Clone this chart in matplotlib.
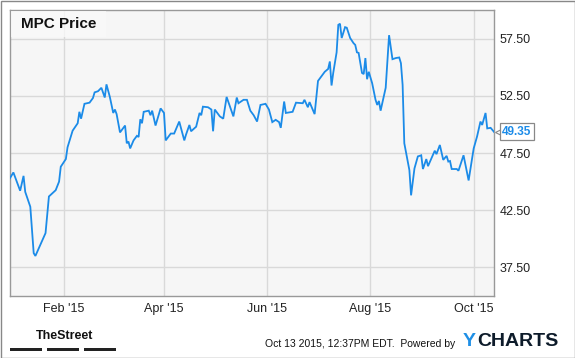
import matplotlib
matplotlib.use("Agg")
import matplotlib.pyplot as plt
import matplotlib.dates as mdates
import matplotlib.transforms as mtransforms
import pandas as pd

# MPC daily close
dates = [
    "2014-12-31", "2015-01-02", "2015-01-06", "2015-01-08", "2015-01-09", "2015-01-12",
    "2015-01-14", "2015-01-15", "2015-01-21", "2015-01-23", "2015-01-27", "2015-01-29",
    "2015-01-30", "2015-02-02", "2015-02-03", "2015-02-06", "2015-02-09", "2015-02-10",
    "2015-02-11", "2015-02-13", "2015-02-16", "2015-02-18", "2015-02-19", "2015-02-21",
    "2015-02-23", "2015-02-25", "2015-02-26", "2015-02-28", "2015-03-02", "2015-03-03",
    "2015-03-04", "2015-03-06", "2015-03-09", "2015-03-10", "2015-03-11", "2015-03-12",
    "2015-03-14", "2015-03-16", "2015-03-17", "2015-03-18", "2015-03-19", "2015-03-20",
    "2015-03-23", "2015-03-24", "2015-03-25", "2015-03-27", "2015-03-30", "2015-04-01",
    "2015-04-02", "2015-04-05", "2015-04-07", "2015-04-10", "2015-04-13", "2015-04-14",
    "2015-04-16", "2015-04-17", "2015-04-20", "2015-04-22", "2015-04-23", "2015-04-24",
    "2015-04-27", "2015-04-29", "2015-04-30", "2015-05-01", "2015-05-03", "2015-05-04",
    "2015-05-06", "2015-05-08", "2015-05-12", "2015-05-14", "2015-05-15", "2015-05-18",
    "2015-05-20", "2015-05-22", "2015-05-24", "2015-05-26", "2015-05-28", "2015-05-31",
    "2015-06-02", "2015-06-04", "2015-06-06", "2015-06-08", "2015-06-09", "2015-06-11",
    "2015-06-12", "2015-06-16", "2015-06-18", "2015-06-22", "2015-06-23", "2015-06-25",
    "2015-06-26", "2015-06-29", "2015-07-01", "2015-07-05", "2015-07-07", "2015-07-08",
    "2015-07-09", "2015-07-10", "2015-07-12", "2015-07-13", "2015-07-14", "2015-07-15",
    "2015-07-17", "2015-07-18", "2015-07-20", "2015-07-22", "2015-07-23", "2015-07-24",
    "2015-07-25", "2015-07-27", "2015-07-28", "2015-07-29", "2015-07-30", "2015-07-31",
    "2015-08-02", "2015-08-04", "2015-08-05", "2015-08-06", "2015-08-07", "2015-08-10",
    "2015-08-12", "2015-08-14", "2015-08-16", "2015-08-18", "2015-08-19", "2015-08-20",
    "2015-08-21", "2015-08-24", "2015-08-25", "2015-08-27", "2015-08-29", "2015-08-31",
    "2015-09-01", "2015-09-03", "2015-09-04", "2015-09-08", "2015-09-09", "2015-09-11",
    "2015-09-13", "2015-09-15", "2015-09-16", "2015-09-17", "2015-09-18", "2015-09-21",
    "2015-09-22", "2015-09-25", "2015-09-28", "2015-10-01", "2015-10-03", "2015-10-05",
    "2015-10-06", "2015-10-08", "2015-10-09", "2015-10-11", "2015-10-13",
]
prices = [
    45.3, 45.8, 44.2, 45.5, 44.1, 42.8,
    38.75, 38.5, 40.5, 43.7, 44.25, 45.0,
    46.3, 46.97, 48.0, 49.45, 50.1, 51.1,
    50.5, 51.8, 51.9, 52.3, 52.8, 52.9,
    53.2, 52.35, 53.5, 52.4, 51.0, 51.3,
    50.9, 49.3, 49.9, 48.35, 48.5, 47.9,
    48.6, 49.0, 48.9, 50.45, 50.1, 51.1,
    51.2, 50.8, 51.2, 49.9, 51.4, 51.0,
    48.6, 49.2, 49.2, 50.25, 48.6, 49.1,
    49.95, 49.4, 49.8, 51.0, 50.8, 51.55,
    51.5, 51.3, 49.4, 51.3, 50.9, 50.7,
    50.5, 52.4, 50.7, 52.35, 51.85, 52.15,
    52.15, 51.2, 50.8, 50.25, 51.7, 51.8,
    51.3, 50.2, 50.4, 50.2, 49.7, 52.0,
    51.0, 51.1, 51.9, 51.85, 52.15, 51.5,
    51.95, 50.9, 53.8, 54.6, 54.85, 55.5,
    53.4, 54.5, 56.3, 58.7, 58.8, 57.55,
    58.5, 58.45, 57.55, 57.1, 56.95, 56.3,
    56.25, 54.5, 54.4, 55.8, 53.95, 54.6,
    53.6, 52.15, 51.7, 52.05, 51.2, 53.2,
    57.8, 55.7, 55.8, 55.85, 55.35, 53.45,
    48.35, 46.0, 43.8, 46.15, 47.2, 47.3,
    46.1, 46.97, 46.35, 47.7, 47.4, 48.2,
    46.9, 47.25, 46.75, 46.8, 46.1, 46.1,
    45.95, 47.3, 45.1, 47.9, 48.95, 50.25,
    49.95, 51.0, 49.65, 49.7, 49.35,
]
yticks = [37.5, 42.5, 47.5, 52.5, 57.5]
last_price = 49.35

x = pd.to_datetime(dates)

LINE = "#1b8be8"
GRID = "#d9d9d9"
FRAME = "#999999"
W, H = 575, 358

fig = plt.figure(figsize=(5.75, 3.58), dpi=100)
fig.patch.set_facecolor("white")
ax = fig.add_axes([10 / W, 1 - 296 / H, 484 / W, 286 / H])
ax.set_facecolor("#f6f6f6")

ax.plot(x, prices, color=LINE, lw=1.3, solid_joinstyle="miter", zorder=3)

ax.set_xlim(x[0], x[-1])
ax.set_ylim(35, 60)
ax.set_yticks(yticks)
ax.yaxis.set_major_formatter(matplotlib.ticker.FormatStrFormatter("%.2f"))
ax.xaxis.set_major_locator(mdates.MonthLocator(bymonth=[2, 4, 6, 8, 10]))
ax.xaxis.set_major_formatter(mdates.DateFormatter("%b '%y"))
ax.yaxis.tick_right()
ax.tick_params(length=0, labelsize=9, labelcolor="#222222", pad=4)
ax.tick_params(axis="x", pad=5)
for lab in ax.get_xticklabels() + ax.get_yticklabels():
    lab.set_family("Liberation Sans")
ax.grid(True, color=GRID, lw=1)
ax.set_axisbelow(True)
for s in ax.spines.values():
    s.set_color(FRAME)
    s.set_linewidth(1)

# title box
fig.patches.append(plt.Rectangle((10.5 / W, 1 - 37 / H), 95 / W, 26.5 / H,
                                 transform=fig.transFigure, fc="#fafafa", ec="none",
                                 alpha=0.75, zorder=2))
fig.text(21 / W, 1 - 24 / H, "MPC Price", ha="left", va="center", fontsize=11,
         fontweight="bold", family="Liberation Sans", color="#111111", zorder=3)

# last value tag with pointer
trans = mtransforms.blended_transform_factory(ax.transAxes, ax.transData)
ptr = mtransforms.offset_copy(trans, fig=fig, x=5, y=0, units="dots")
ax.plot([1.0], [last_price], marker="<", ms=6, mfc="white", mec="#888888", mew=0.8,
        transform=ptr, clip_on=False, zorder=4)
tag = mtransforms.offset_copy(trans, fig=fig, x=8, y=0, units="dots")
ax.text(1.0, last_price, f"{last_price:.2f}", transform=tag, ha="left", va="center",
        fontsize=8.5, fontweight="bold", color=LINE, family="Liberation Sans", zorder=5,
        bbox=dict(boxstyle="square,pad=0.2", fc="white", ec="#888888", lw=0.9))

# footer
fig.text(36 / W, 1 - 336 / H, "TheStreet", ha="left", va="center", fontsize=9,
         fontweight="bold", family="Liberation Sans", color="#111111")
for x0 in (10, 47, 84):
    fig.patches.append(plt.Rectangle((x0 / W, 1 - 350.5 / H), 32 / W, 3 / H,
                                     transform=fig.transFigure, fc="#222222", ec="none"))
fig.text(265 / W, 1 - 344 / H, "Oct 13 2015, 12:37PM EDT.  Powered by", ha="left",
         va="center", fontsize=7.5, family="Liberation Sans", color="#111111")
fig.text(463 / W, 1 - 341.5 / H, "Y", ha="left", va="center", fontsize=14,
         fontweight="bold", family="Liberation Sans", color="#1e8fe6")
fig.text(477 / W, 1 - 341.5 / H, "CHARTS", ha="left", va="center", fontsize=14,
         fontweight="bold", family="Liberation Sans", color="#0d1b2a")

# outer frame
fig.patches.append(plt.Rectangle((0.5 / W, 0.5 / H), 574 / W, 357 / H,
                                 transform=fig.transFigure, fc="none", ec="#888888", lw=1))

fig.savefig("out.png", dpi=100)
